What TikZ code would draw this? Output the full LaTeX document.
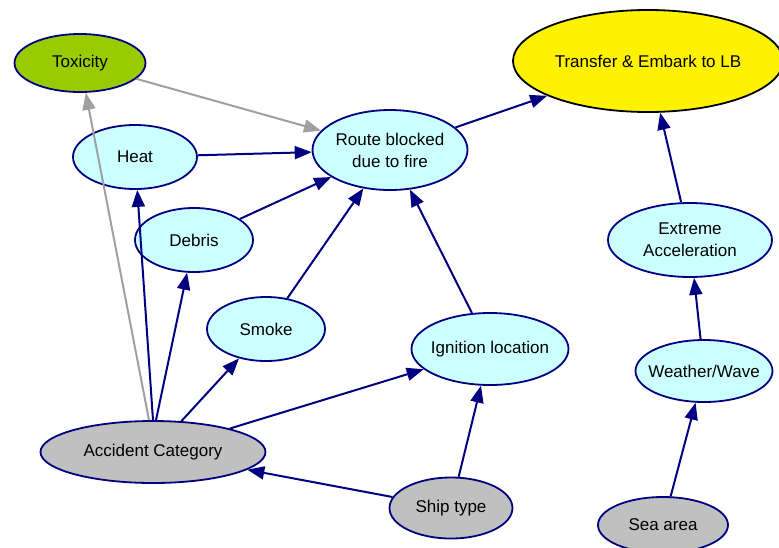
\documentclass[tikz,border=0pt]{standalone}
\usepackage{fontspec}
\setmainfont{Liberation Sans}
\usetikzlibrary{shapes.geometric}
\usetikzlibrary{arrows.meta}
\definecolor{navyline}{HTML}{000080}
\definecolor{lightcyan}{HTML}{CCFFFF}
\definecolor{toxgreen}{HTML}{99CC00}
\definecolor{obsgray}{HTML}{C0C0C0}
\definecolor{edgegray}{HTML}{A0A0A0}

\begin{document}
\begin{tikzpicture}[x=1pt,y=-1pt,
	var/.style={ellipse,draw=navyline,line width=1.8pt,inner sep=0pt,align=center,
		font=\fontsize{17}{22}\selectfont},
	mid/.style={var,fill=lightcyan},
	obs/.style={var,fill=obsgray},
	link/.style={draw=navyline,line width=2pt,-{Triangle[length=17pt,width=13pt]}},
	glink/.style={link,draw=edgegray}]%[font=\small]
\useasboundingbox (0,0) rectangle (779,547);
\node[var,fill=toxgreen,minimum width=131,minimum height=58] (tox) at (80,63) {Toxicity};
\node[var,fill=yellow,draw=black,minimum width=270,minimum height=102] (lb) at (648,61) {Transfer \& Embark to LB};
\node[mid,minimum width=124,minimum height=64] (heat) at (135,157) {Heat};
\node[mid,minimum width=155,minimum height=80] (route) at (390,150) {Route blocked\\due to fire};
\node[mid,minimum width=118,minimum height=64] (debris) at (194,240) {Debris};
\node[mid,minimum width=164,minimum height=74,inner xsep=-10pt] (accel) at (690,240) {Extreme\\Acceleration};
\node[mid,minimum width=118,minimum height=64] (smoke) at (266,329) {Smoke};
\node[mid,minimum width=157,minimum height=72,inner xsep=-12pt] (ign) at (490,349) {Ignition location};
\node[mid,minimum width=137,minimum height=62,inner xsep=-12pt] (wave) at (704,371) {Weather/Wave};
\node[obs,minimum width=225,minimum height=62,inner xsep=-10pt] (acc) at (153,452) {Accident Category};
\node[obs,minimum width=123,minimum height=61] (ship) at (451,508) {Ship type};
\node[obs,minimum width=130,minimum height=56] (sea) at (663,525) {Sea area};
% edges
\draw[glink] (acc.north) ++(-4,0) -- (tox);
\draw[glink] (tox) -- (route);
\draw[link] (acc.north) -- (heat);
\draw[link] (acc.north) ++(3,0) -- (debris);
\draw[link] (acc) -- (smoke);
\draw[link] (acc) -- (ign);
\draw[link] (ship) -- (acc);
\draw[link] (ship) -- (ign);
\draw[link] (heat) -- (route);
\draw[link] (debris) -- (route);
\draw[link] (smoke) -- (route);
\draw[link] (ign) -- (route);
\draw[link] (route) -- (lb);
\draw[link] (accel) -- (lb);
\draw[link] (wave) -- (accel);
\draw[link] (sea) -- (wave);
\end{tikzpicture}
\end{document}
